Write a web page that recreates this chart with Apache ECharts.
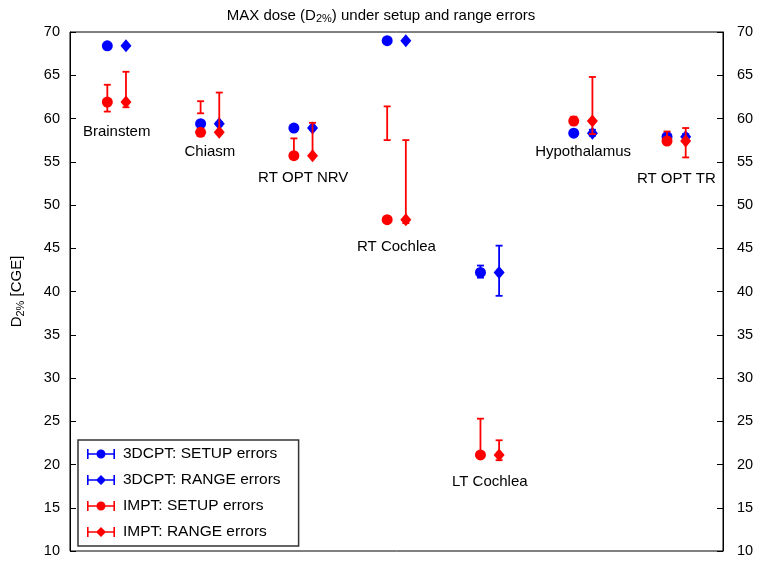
<!DOCTYPE html>
<html>
<head>
<meta charset="utf-8">
<script src="https://cdn.jsdelivr.net/npm/echarts@6/dist/echarts.min.js"></script>
<style>html,body{margin:0;padding:0;background:#fff}#c{width:762px;height:565px}</style>
</head>
<body>
<div id="c"></div>
<script>
const categories = ['Brainstem','Chiasm','RT OPT NRV','RT Cochlea','LT Cochlea','Hypothalamus','RT OPT TR'];
const labelY = [58.5, 56.1, 53.1, 45.2, 18.0, 56.1, 53.0];

const cptSetup   = [68.4, 59.4, 58.9, 69.0, 42.2, 58.3, 57.9];
const cptSetupLo = [68.3, 59.3, 58.8, 68.9, 41.6, 58.0, 57.6];
const cptSetupHi = [68.5, 59.5, 59.0, 69.1, 43.0, 58.7, 58.2];
const cptRange   = [68.4, 59.4, 58.9, 69.0, 42.2, 58.3, 57.9];
const cptRangeLo = [68.3, 59.2, 58.7, 68.9, 39.5, 58.0, 57.6];
const cptRangeHi = [68.5, 59.6, 59.1, 69.1, 45.3, 58.7, 58.2];
const imptSetup   = [61.9, 58.4, 55.7, 48.3, 21.1, 59.7, 57.4];
const imptSetupLo = [60.8, 60.6, 55.7, 57.5, 21.1, 59.3, 57.3];
const imptSetupHi = [63.9, 62.0, 57.7, 61.4, 25.3, 60.2, 58.5];
const imptRange   = [61.9, 58.4, 55.7, 48.3, 21.1, 59.7, 57.4];
const imptRangeLo = [61.3, 58.2, 55.7, 47.9, 20.5, 58.2, 55.5];
const imptRangeHi = [65.4, 63.0, 59.5, 57.5, 22.8, 64.8, 58.9];

const seriesNames = ['3DCPT: SETUP errors','3DCPT: RANGE errors','IMPT: SETUP errors','IMPT: RANGE errors'];
const yTicks = [10,15,20,25,30,35,40,45,50,55,60,65,70];

const BLUE = '#0000ff', RED = '#ff0000';
const OFF = 0.1;

function pts(vals, off){ return vals.map((v,i)=>[i+1+off, v]); }
function bars(lo, hi, off){ return lo.map((l,i)=>[i+1+off, l, hi[i]]); }

function errRender(color){
  return function(params, api){
    const x = api.value(0);
    const p1 = api.coord([x, api.value(1)]);
    const p2 = api.coord([x, api.value(2)]);
    const hw = 3.5;
    const st = {stroke: color, lineWidth: 1.8};
    return {type:'group', children:[
      {type:'line', shape:{x1:p1[0],y1:p1[1],x2:p2[0],y2:p2[1]}, style:st},
      {type:'line', shape:{x1:p1[0]-hw,y1:p1[1],x2:p1[0]+hw,y2:p1[1]}, style:st},
      {type:'line', shape:{x1:p2[0]-hw,y1:p2[1],x2:p2[0]+hw,y2:p2[1]}, style:st}
    ]};
  };
}

const circIcon = 'path://M0,4.2h28v1.6h-28z M0,0h1.6v10h-1.6z M26.4,0h1.6v10h-1.6z M9.5,5a4.5,4.5 0 1,1 9,0a4.5,4.5 0 1,1 -9,0z';
const diaIcon  = 'path://M0,4.2h28v1.6h-28z M0,0h1.6v10h-1.6z M26.4,0h1.6v10h-1.6z M14,0L19,5L14,10L9,5z';

const FONT = 'Liberation Sans, Arial, sans-serif';

function yAxis(pos, margin){
  return {
    type:'value', position:pos, min:10, max:70, interval:5,
    axisLine:{show:true, lineStyle:{color:'#000', width:1}},
    axisTick:{show:true, inside:true, length:6, lineStyle:{color:'#000'}},
    axisLabel:{color:'#000', fontSize:14.5, fontFamily:FONT, margin:margin},
    splitLine:{show:false}
  };
}

const leftY = yAxis('left', 10);
leftY.name = '{a|D}{b|2%}{a| [CGE]}';
leftY.nameLocation = 'middle';
leftY.nameRotate = 90;
leftY.nameGap = 44;
leftY.nameTextStyle = {color:'#000', fontFamily:FONT, rich:{
  a:{fontSize:15, fontFamily:FONT, color:'#000'},
  b:{fontSize:11, fontFamily:FONT, color:'#000', padding:[7,0,0,0]}
}};
const rightY = yAxis('right', 14);

const option = {
  animation:false,
  backgroundColor:'#fff',
  title:{
    text:'{t|MAX dose (D}{s|2%}{t|) under setup and range errors}',
    left:'center', top:2,
    textStyle:{fontWeight:'normal', rich:{
      t:{fontSize:15, fontFamily:FONT, color:'#000', fontWeight:'normal'},
      s:{fontSize:11, fontFamily:FONT, color:'#000', fontWeight:'normal', padding:[6,0,0,0]}
    }}
  },
  grid:{left:70, right:39, top:32, bottom:14, show:true, borderColor:'#000', borderWidth:1, backgroundColor:'transparent'},
  xAxis:{type:'value', min:0.5, max:7.5, show:false},
  yAxis:[leftY, rightY],
  legend:{
    orient:'vertical', left:78, top:440,
    padding:[6,18,6,9],
    itemGap:10, itemWidth:28, itemHeight:10,
    borderColor:'#333', borderWidth:1.5, backgroundColor:'#fff',
    textStyle:{fontSize:15.5, fontFamily:FONT, color:'#000', padding:[0,0,0,3], lineHeight:16},
    data:[
      {name:seriesNames[0], icon:circIcon},
      {name:seriesNames[1], icon:diaIcon},
      {name:seriesNames[2], icon:circIcon},
      {name:seriesNames[3], icon:diaIcon}
    ]
  },
  series:[
    {type:'custom', name:'e0', renderItem:errRender(BLUE), data:bars(cptSetupLo, cptSetupHi, -OFF), z:2, silent:true},
    {type:'scatter', name:seriesNames[0], data:pts(cptSetup, -OFF), symbol:'circle', symbolSize:11, itemStyle:{color:BLUE, opacity:1}, z:3},
    {type:'custom', name:'e1', renderItem:errRender(BLUE), data:bars(cptRangeLo, cptRangeHi, OFF), z:2, silent:true},
    {type:'scatter', name:seriesNames[1], data:pts(cptRange, OFF), symbol:'diamond', symbolSize:[11,13], itemStyle:{color:BLUE, opacity:1}, z:3},
    {type:'custom', name:'e2', renderItem:errRender(RED), data:bars(imptSetupLo, imptSetupHi, -OFF), z:4, silent:true},
    {type:'scatter', name:seriesNames[2], data:pts(imptSetup, -OFF), symbol:'circle', symbolSize:11, itemStyle:{color:RED, opacity:1}, z:5},
    {type:'custom', name:'e3', renderItem:errRender(RED), data:bars(imptRangeLo, imptRangeHi, OFF), z:4, silent:true},
    {type:'scatter', name:seriesNames[3], data:pts(imptRange, OFF), symbol:'diamond', symbolSize:[11,13], itemStyle:{color:RED, opacity:1}, z:5},
    {type:'scatter', name:'labels', silent:true, symbolSize:0, z:6, itemStyle:{opacity:1},
      data:categories.map((c,i)=>({value:[i+1, labelY[i]], name:c})),
      label:{show:true, position:'inside', formatter:p=>p.name, fontSize:15, fontFamily:FONT, color:'#000', opacity:1, textBorderWidth:0}
    }
  ]
};

const chart = echarts.init(document.getElementById('c'), null, {renderer:'canvas'});
chart.setOption(option);
</script>
</body>
</html>
